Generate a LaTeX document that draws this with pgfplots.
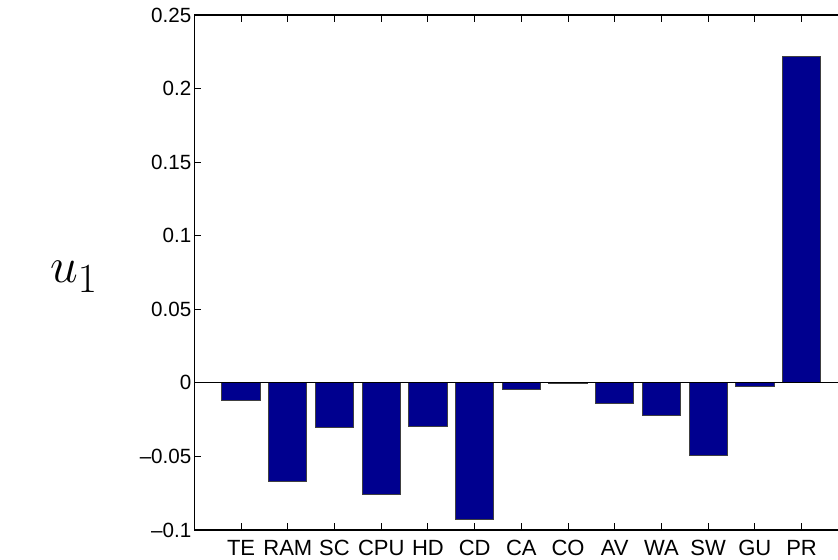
\documentclass[border=0pt]{standalone}
\usepackage{pgfplots}
\pgfplotsset{compat=1.18}
\usepackage{fontspec}
\setmainfont{Liberation Sans}
\definecolor{mblue}{RGB}{0,0,143}

\begin{document}
\begin{tikzpicture}
\useasboundingbox (0,0) rectangle (419pt,280pt);
\begin{axis}[
    at={(97.2pt,15pt)}, anchor=south west,
    scale only axis,
    width=321.8pt, height=257.5pt,
    xmin=0, xmax=13.78,
    ymin=-0.1, ymax=0.25,
    axis y line*=left,
    xtick={1,...,13},
    xticklabels={TE,RAM,SC,CPU,HD,CD,CA,CO,AV,WA,SW,GU,PR},
    ytick={-0.1,-0.05,0,0.05,0.1,0.15,0.2,0.25},
    yticklabels={\textendash0.1,\textendash0.05,0,0.05,0.1,0.15,0.2,0.25},
    tick align=inside,
    major tick length=3.5pt,
    tick style={black, line width=0.5pt},
    axis line style={black, line width=0.6pt},
    yticklabel style={font=\fontsize{10.3}{12}\selectfont, xshift=2pt},
    xticklabel style={font=\fontsize{11}{13}\selectfont, yshift=-1.5pt},
    clip=false,
]
\addplot[ybar, bar width=0.82, fill=mblue, draw=black!75, line width=0.5pt] coordinates {
    (1,-0.0122) (2,-0.0671) (3,-0.0306) (4,-0.0761) (5,-0.0295)
    (6,-0.0931) (7,-0.0048) (8,-0.0007) (9,-0.0138) (10,-0.0224)
    (11,-0.0496) (12,-0.0025) (13,0.2218)
};
% baseline at zero
\addplot[black, line width=0.5pt] coordinates {(0,0) (13.78,0)};
\end{axis}
\node at (37pt,141.5pt) {\fontsize{29}{33}\selectfont$u_1$};
\end{tikzpicture}
\end{document}
